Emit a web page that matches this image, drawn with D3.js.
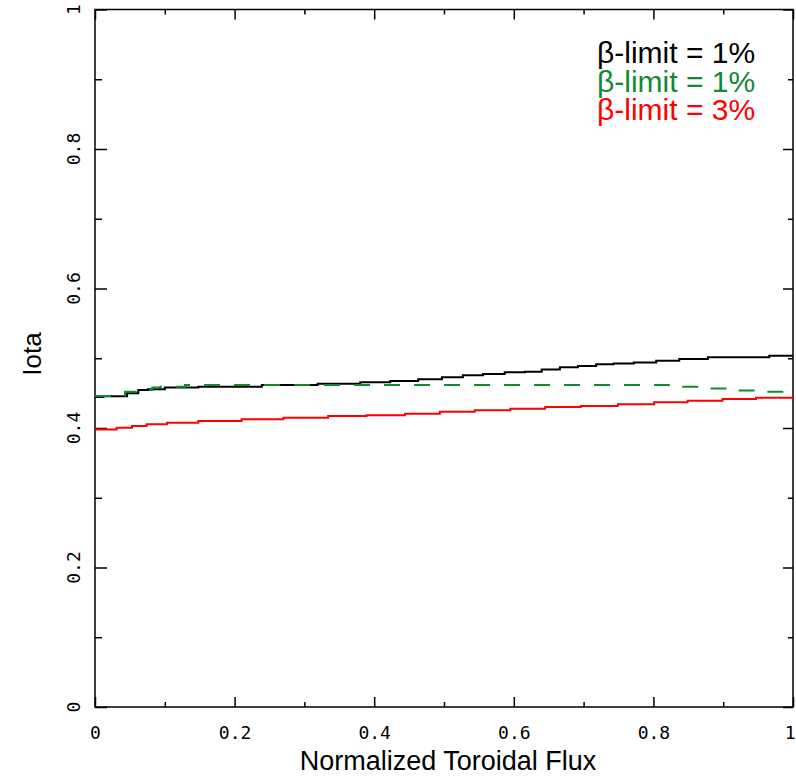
<!DOCTYPE html>
<html>
<head>
<meta charset="utf-8">
<script src="https://cdn.jsdelivr.net/npm/d3@7"></script>
<style>
html,body{margin:0;padding:0;background:#fff;}
svg{display:block;}
</style>
</head>
<body>
<svg id="chart" width="796" height="776"></svg>
<script>
// ---- data ----
const xTickValues = [0, 0.2, 0.4, 0.6, 0.8, 1];
const xTickLabels = ["0", "0.2", "0.4", "0.6", "0.8", "1"];
const yTickValues = [0, 0.2, 0.4, 0.6, 0.8, 1];
const yTickLabels = ["0", "0.2", "0.4", "0.6", "0.8", "1"];
const minorTicks = [0.1, 0.3, 0.5, 0.7, 0.9];

const blackFlux = [0, 0.012, 0.046, 0.062, 0.076, 0.10, 0.148, 0.239, 0.319, 0.38, 0.423, 0.463, 0.497, 0.527, 0.556, 0.587, 0.616, 0.640, 0.666, 0.692, 0.718, 0.743, 0.772, 0.804, 0.837, 0.878, 0.966, 1.0];
const blackIota = [0.4445, 0.4455, 0.4497, 0.4545, 0.4555, 0.458, 0.4592, 0.4616, 0.4636, 0.4655, 0.4674, 0.470, 0.4727, 0.4755, 0.4774, 0.480, 0.4808, 0.484, 0.487, 0.489, 0.4913, 0.4926, 0.494, 0.4965, 0.499, 0.5014, 0.5037, 0.5037];

const greenFlux = [0, 0.043, 0.064, 0.082, 0.094, 0.129, 0.822, 0.880, 0.921, 0.954, 0.994, 1.0];
const greenIota = [0.4459, 0.452, 0.4545, 0.458, 0.459, 0.4616, 0.459, 0.4566, 0.4538, 0.452, 0.4483, 0.4483];

const redFlux = [0, 0.031, 0.053, 0.074, 0.103, 0.148, 0.21, 0.27, 0.334, 0.389, 0.444, 0.494, 0.544, 0.595, 0.645, 0.696, 0.749, 0.801, 0.849, 0.899, 0.947, 1.0];
const redIota = [0.398, 0.4005, 0.4029, 0.4053, 0.4076, 0.41, 0.4125, 0.4148, 0.4172, 0.4182, 0.4205, 0.4234, 0.4253, 0.4277, 0.4301, 0.4315, 0.434, 0.4368, 0.4391, 0.4416, 0.4434, 0.4445];

const legendLabels = ["β-limit = 1%", "β-limit = 1%", "β-limit = 3%"];
const seriesColors = ["#000000", "#118a33", "#ff0000"];
const xTitle = "Normalized Toroidal Flux";
const yTitle = "Iota";

// ---- layout ----
const L = 95, R = 793, T = 9.5, B = 707;
const svg = d3.select("#chart");
const x = d3.scaleLinear().domain([0, 1]).range([L, R]);
const y = d3.scaleLinear().domain([0, 1]).range([B, T]);

const tickFont = "'DejaVu Sans Mono', monospace";
const textFont = "'Liberation Sans', Arial, Helvetica, sans-serif";

function axisGroup(axisGen, tx, ty) {
  const g = svg.append("g").attr("transform", `translate(${tx},${ty})`).call(axisGen);
  g.select(".domain").remove();
  g.selectAll("line").attr("stroke", "#000").attr("stroke-width", 1.5);
  return g;
}
// bottom major
const gb = axisGroup(d3.axisBottom(x).tickValues(xTickValues).tickSize(-10).tickFormat((d, i) => xTickLabels[i]).tickPadding(19), 0, B);
gb.selectAll("text").attr("font-family", tickFont).attr("font-size", 18).attr("fill", "#000")
  .attr("text-anchor", d => d === 1 ? "end" : "middle")
  .attr("dx", d => d === 1 ? 2 : 0);
axisGroup(d3.axisBottom(x).tickValues(minorTicks).tickSize(-5).tickFormat(""), 0, B);
// top
axisGroup(d3.axisTop(x).tickValues(xTickValues).tickSize(-10).tickFormat(""), 0, T);
axisGroup(d3.axisTop(x).tickValues(minorTicks).tickSize(-5).tickFormat(""), 0, T);
// left
axisGroup(d3.axisLeft(y).tickValues(yTickValues).tickSize(-12).tickFormat(""), L, 0);
axisGroup(d3.axisLeft(y).tickValues(minorTicks).tickSize(-7).tickFormat(""), L, 0);
// right
axisGroup(d3.axisRight(y).tickValues(yTickValues).tickSize(-10).tickFormat(""), R, 0);
axisGroup(d3.axisRight(y).tickValues(minorTicks).tickSize(-5).tickFormat(""), R, 0);

// rotated y tick labels
svg.append("g").selectAll("text").data(yTickValues).join("text")
  .attr("transform", d => `translate(80,${y(d)}) rotate(-90)`)
  .attr("text-anchor", "middle")
  .attr("font-family", tickFont).attr("font-size", 18)
  .attr("fill", "#000")
  .text((d, i) => yTickLabels[i]);

// frame
svg.append("rect").attr("x", L).attr("y", T).attr("width", R - L).attr("height", B - T)
  .attr("fill", "none").attr("stroke", "#000").attr("stroke-width", 1.5);

// curves
const line = d3.line().x(d => x(d[0])).y(d => y(d[1])).curve(d3.curveStepAfter);
const series = [
  {f: blackFlux, v: blackIota, c: seriesColors[0], dash: null},
  {f: greenFlux, v: greenIota, c: seriesColors[1], dash: "16,14"},
  {f: redFlux, v: redIota, c: seriesColors[2], dash: null}
];
series.forEach(s => {
  const pts = s.f.map((f, i) => [f, s.v[i]]);
  svg.append("path").datum(pts).attr("d", line)
    .attr("fill", "none").attr("stroke", s.c).attr("stroke-width", 2)
    .attr("stroke-dasharray", s.dash);
});

// legend
svg.append("g").selectAll("text").data(legendLabels).join("text")
  .attr("x", 597).attr("y", (d, i) => 63 + i * 28.7)
  .attr("font-family", textFont).attr("font-size", 30)
  .attr("fill", (d, i) => seriesColors[i])
  .text(d => d);

// axis titles
svg.append("text").attr("x", (L + R) / 2 + 4).attr("y", 770)
  .attr("text-anchor", "middle").attr("font-family", textFont).attr("font-size", 27)
  .attr("fill", "#000").text(xTitle);
svg.append("text").attr("transform", `translate(41,354) rotate(-90)`)
  .attr("text-anchor", "middle").attr("font-family", textFont).attr("font-size", 26)
  .attr("fill", "#000").text(yTitle);
</script>
</body>
</html>
